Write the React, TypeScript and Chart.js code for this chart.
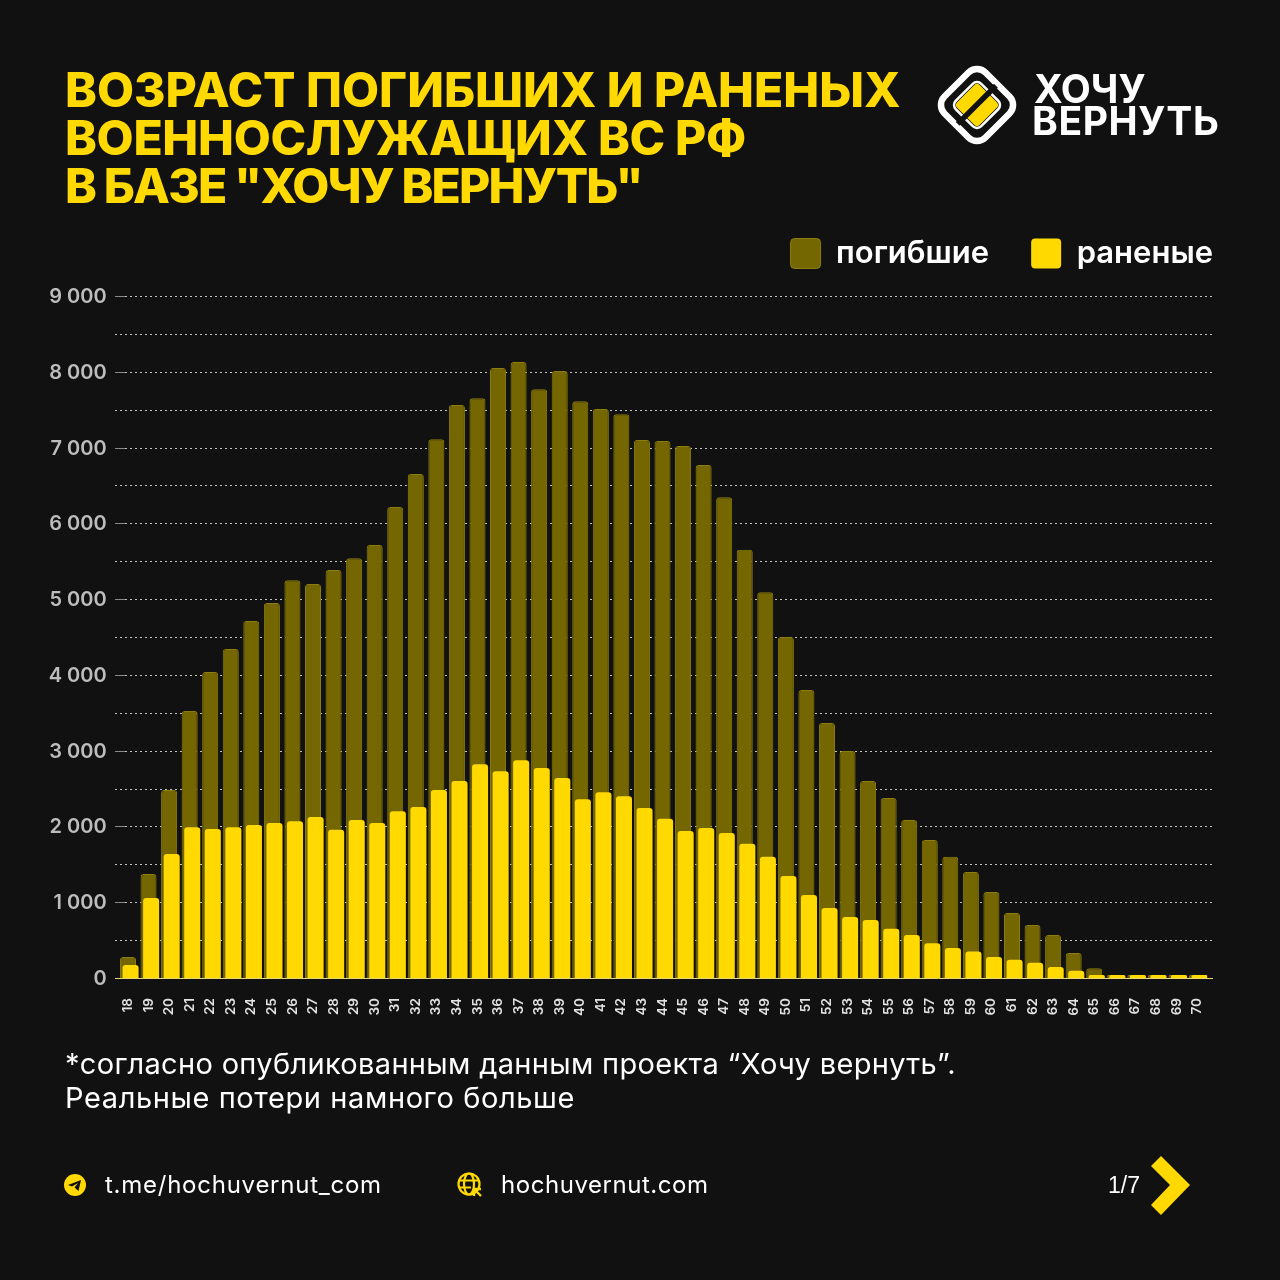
import React, { useEffect, useRef } from "react";
import { Chart, registerables } from "chart.js";

Chart.register(...registerables);

const ages = ["18","19","20","21","22","23","24","25","26","27","28","29","30","31","32","33","34","35","36","37","38","39","40","41","42","43","44","45","46","47","48","49","50","51","52","53","54","55","56","57","58","59","60","61","62","63","64","65","66","67","68","69","70"];
const killed = [277,1372,2480,3523,4038,4340,4710,4950,5250,5200,5385,5540,5715,6215,6650,7110,7560,7650,8050,8130,7770,8010,7610,7510,7440,7100,7085,7020,6770,6345,5650,5090,4500,3800,3365,2995,2600,2375,2085,1820,1600,1400,1135,858,700,567,330,130,40,40,40,40,40];
const wounded = [172,1055,1636,1990,1966,1990,2020,2045,2070,2125,1955,2085,2045,2200,2255,2480,2600,2820,2730,2875,2770,2640,2360,2450,2400,2245,2100,1940,1980,1915,1770,1600,1345,1095,925,805,765,650,567,460,395,350,277,240,200,145,95,40,40,40,40,40,40];
const legendNames = ["погибшие", "раненые"];
const titleLines = ["ВОЗРАСТ ПОГИБШИХ И РАНЕНЫХ", "ВОЕННОСЛУЖАЩИХ ВС РФ", "В БАЗЕ \"ХОЧУ ВЕРНУТЬ\""];
const noteLines = ["*согласно опубликованным данным проекта “Хочу вернуть”.", "Реальные потери намного больше"];

const FONT = "Inter, 'Noto Sans', sans-serif";
const BG = "#111111";
const YELLOW = "#FFD900";
const titleSpacing = [0, -0.3, -1.8];
const noteSpacing = [0.33, 0.6];

const gridPlugin = {
  id: "dottedGrid",
  beforeDatasetsDraw(chart: any) {
    const { ctx } = chart;
    const y = chart.scales.y;
    ctx.save();
    y.ticks.forEach((t: any) => {
      const py = Math.round(y.getPixelForValue(t.value)) + 0.5;
      if (t.value === 0) return;
      ctx.strokeStyle = "rgba(255,255,255,0.75)";
      ctx.lineWidth = 1;
      ctx.setLineDash([2, 3]);
      ctx.beginPath();
      ctx.moveTo(t.value % 1000 === 0 ? 125 : 115, py);
      ctx.lineTo(1213, py);
      ctx.stroke();
      if (t.value % 1000 === 0) {
        ctx.setLineDash([]);
        ctx.strokeStyle = "rgba(255,255,255,0.5)";
        ctx.beginPath();
        ctx.moveTo(115, py);
        ctx.lineTo(125, py);
        ctx.stroke();
      }
    });
    ctx.restore();
  },
  afterDatasetsDraw(chart: any) {
    const { ctx } = chart;
    const py = chart.scales.y.getPixelForValue(0);
    ctx.save();
    ctx.strokeStyle = "rgba(255,235,120,0.9)";
    ctx.lineWidth = 1;
    ctx.beginPath();
    ctx.moveTo(115, py + 0.5);
    ctx.lineTo(1213, py + 0.5);
    ctx.stroke();
    ctx.restore();
  },
};

// The wounded bars sit slightly to the right of the killed bars, over them.
const nudgeWounded = {
  id: "nudgeWounded",
  afterDatasetUpdate(chart: any, args: any) {
    if (args.index !== 1) return;
    args.meta.data.forEach((el: any) => { el.x += 2.6; });
  },
};

const legendShift = {
  id: "legendShift",
  beforeDraw(chart: any) {
    const l = chart.legend;
    if (l && !l.$moved) {
      l.right += 47.7;
      l.left += 47.7;
      l.top -= 17;
      l.bottom -= 17;
      l.$moved = true;
    }
  },
};

function Logo() {
  return (
    <svg width={82} height={82} viewBox="0 0 82 82" style={{ position: "absolute", left: 936, top: 64 }}>
      <g transform="rotate(-45 41 41)">
        <rect x="12" y="12" width="58" height="58" rx="12" fill="none" stroke="#fff" strokeWidth="6.5" />
        <rect x="23" y="23" width="36" height="36" rx="6" fill="none" stroke="#fff" strokeWidth="2.5" />
        <rect x="25" y="25" width="32" height="32" rx="4" fill={YELLOW} />
        <rect x="14" y="38" width="54" height="5.5" fill={BG} />
      </g>
    </svg>
  );
}

export default function App() {
  const ref = useRef<HTMLCanvasElement | null>(null);
  useEffect(() => {
    if (!ref.current) return;
    const chart = new Chart(ref.current, {
      type: "bar",
      data: {
        labels: ages,
        datasets: [
          {
            label: legendNames[0],
            data: killed,
            order: 2,
            backgroundColor: "#746702",
            borderColor: "#8d7d0c",
            borderWidth: 1,
            borderRadius: { topLeft: 3, topRight: 3, bottomLeft: 0, bottomRight: 0 },
            borderSkipped: "bottom",
          },
          {
            label: legendNames[1],
            data: wounded,
            order: 1,
            backgroundColor: YELLOW,
            borderColor: YELLOW,
            borderWidth: 0,
            borderRadius: { topLeft: 3, topRight: 3, bottomLeft: 0, bottomRight: 0 },
            borderSkipped: "bottom",
          },
        ],
      },
      options: {
        responsive: false,
        animation: false,
        devicePixelRatio: 1,
        grouped: false,
        categoryPercentage: 0.78,
        barPercentage: 1,
        layout: { padding: { left: 0, right: 72.7, top: 213, bottom: 0 } },
        scales: {
          x: {
            grid: { display: false },
            border: { display: false },
            ticks: {
              color: "#e2e2e2",
              font: { family: FONT, size: 13.5, weight: "600" },
              minRotation: 90,
              maxRotation: 90,
              autoSkip: false,
              padding: 12,
            },
            afterFit(s: any) { s.height = 1280 - 978; },
          },
          y: {
            min: 0,
            max: 9000,
            grid: { display: false },
            border: { display: false },
            ticks: {
              stepSize: 500,
              autoSkip: false,
              color: "#bdbdbd",
              padding: 3,
              labelOffset: 1,
              font: { family: FONT, size: 20, weight: "600" },
              callback(v: any) {
                if (Number(v) === 0) return "0";
                if (Number(v) % 1000 !== 0) return "";
                return `${Number(v) / 1000} 000`;
              },
            },
            afterFit(s: any) { s.width = 117.7; },
          },
        },
        plugins: {
          tooltip: { enabled: false },
          title: { display: false },
          legend: {
            display: true,
            position: "top",
            align: "end",
            labels: {
              boxWidth: 30,
              boxHeight: 30,
              useBorderRadius: true,
              borderRadius: 4,
              padding: 42,
              color: "#ffffff",
              font: { family: FONT, size: 31, weight: "600" },
              sort: (a: any, b: any) => a.datasetIndex - b.datasetIndex,
            },
          },
        },
      } as any,
      plugins: [gridPlugin, nudgeWounded, legendShift],
    } as any);
    return () => chart.destroy();
  }, []);

  const text = (left: number, top: number, size: number, extra: React.CSSProperties = {}) => ({
    position: "absolute" as const,
    left,
    top,
    fontSize: size,
    fontFamily: FONT,
    whiteSpace: "nowrap" as const,
    color: "#fff",
    ...extra,
  });

  return (
    <div style={{ position: "absolute", left: 0, top: 0, width: 1280, height: 1280, background: BG, overflow: "hidden" }}>
      <canvas ref={ref} width={1280} height={1280} style={{ position: "absolute", left: 0, top: 0, display: "block" }} />
      {titleLines.map((t, i) => (
        <div key={t} style={text(65, 61 + i * 48, 48, { color: YELLOW, fontWeight: 800, lineHeight: "58px", letterSpacing: titleSpacing[i] })}>{t}</div>
      ))}
      <Logo />
      <div style={text(1034, 65, 39, { fontWeight: 700, lineHeight: "48px" })}>ХОЧУ</div>
      <div style={text(1032, 97, 39, { fontWeight: 700, lineHeight: "48px", letterSpacing: 0.6 })}>ВЕРНУТЬ</div>
      {noteLines.map((t, i) => (
        <div key={t} style={text(65, 1047 + i * 33.5, 29, { lineHeight: "34px", letterSpacing: noteSpacing[i] })}>{t}</div>
      ))}
      <svg width={22} height={22} viewBox="0 0 22 22" style={{ position: "absolute", left: 64, top: 1174 }}>
        <circle cx="11" cy="11" r="11" fill={YELLOW} />
        <path d="M4 11 L17 6 L14.5 17 L10.5 13.5 L14 9 L8 12.5 Z" fill={BG} />
      </svg>
      <div style={text(105, 1170, 24, { lineHeight: "30px", letterSpacing: 0.75 })}>t.me/hochuvernut_com</div>
      <svg width={26} height={26} viewBox="0 0 26 26" style={{ position: "absolute", left: 457, top: 1172 }} fill="none" stroke={YELLOW} strokeWidth="2.2">
        <circle cx="12" cy="12" r="10.5" />
        <ellipse cx="12" cy="12" rx="5" ry="10.5" />
        <path d="M2 8.5 H22 M2 15.5 H14" />
        <path d="M17 17 L24 17 M17 17 L17 24 M17 17 L24 24" strokeWidth="2.4" />
      </svg>
      <div style={text(501, 1170, 24, { lineHeight: "30px", letterSpacing: 0.55 })}>hochuvernut.com</div>
      <div style={text(1108, 1171, 23, { lineHeight: "28px", fontFamily: "'Liberation Sans', sans-serif" })}>1/7</div>
      <svg width={42} height={62} viewBox="0 0 42 62" style={{ position: "absolute", left: 1150, top: 1155 }}>
        <path d="M1 11 L11 1 L40 30 L11 60 L1 50 L20 30 Z" fill={YELLOW} />
      </svg>
    </div>
  );
}
